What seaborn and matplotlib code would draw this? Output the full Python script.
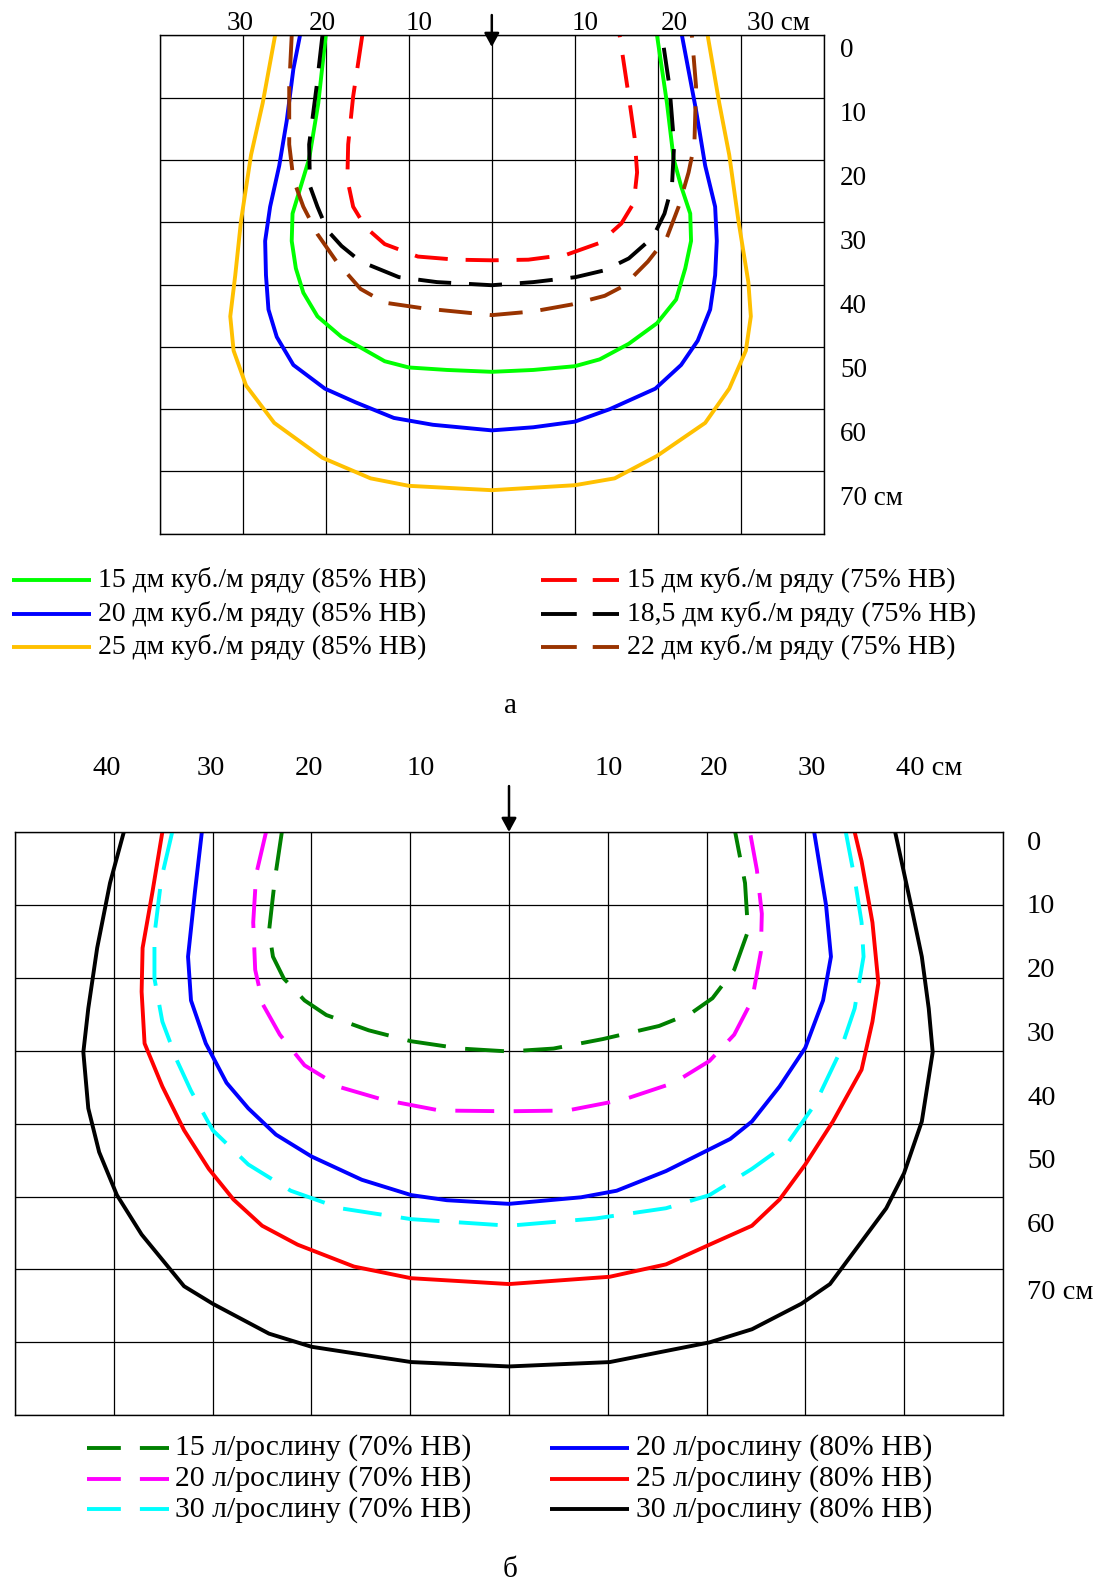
import numpy as np
import pandas as pd
import matplotlib
matplotlib.use("Agg")
import matplotlib.pyplot as plt
from matplotlib.lines import Line2D
import seaborn as sns

# ---------------- panel а : data (x = cm from row axis, y = depth cm) ----------------
A_LABELS = ["15 дм куб./м ряду (85% НВ)", "20 дм куб./м ряду (85% НВ)", "25 дм куб./м ряду (85% НВ)",
            "15 дм куб./м ряду (75% НВ)", "18,5 дм куб./м ряду (75% НВ)", "22 дм куб./м ряду (75% НВ)"]
A_COLORS = ["#00ff00", "#0000ff", "#ffc000", "#ff0000", "#000000", "#993300"]
A_DASHED = [False, False, False, True, True, True]

A_G15_X = [-20.0, -20.9, -22.0, -23.0, -24.0, -24.1, -23.6, -22.7, -21.0, -18.1, -15.8, -12.9, -10.0, -5.4, 0.0,
           5.0, 10.0, 13.0, 16.5, 19.9, 22.2, 23.3, 24.0, 23.9, 22.8, 21.9, 21.1, 19.9]
A_G15_Y = [0, 10.9, 19.8, 24.2, 28.6, 33.0, 37.4, 41.3, 45.1, 48.4, 50.1, 52.3, 53.3, 53.7, 54.0,
           53.7, 53.1, 52.0, 49.5, 46.2, 42.4, 37.4, 33.0, 28.6, 24.2, 19.8, 10.9, 0]
A_B20_X = [-23.1, -23.9, -24.7, -25.6, -26.7, -27.3, -27.2, -26.9, -25.9, -23.9, -20.1, -16.4, -11.8, -7.1, 0.0,
           5.0, 10.0, 14.2, 19.7, 22.8, 24.8, 26.3, 26.9, 27.1, 26.9, 25.7, 24.6, 22.9]
A_B20_Y = [0, 5.4, 13.7, 20.9, 27.5, 33.0, 38.5, 44.0, 48.4, 52.9, 56.7, 58.9, 61.4, 62.5, 63.4,
           62.9, 62.0, 60.0, 56.7, 52.9, 49.0, 44.0, 38.5, 33.0, 27.5, 20.9, 12.0, 0]
A_Y25_X = [-26.1, -27.6, -29.0, -30.2, -30.9, -31.5, -31.1, -29.6, -26.2, -20.4, -14.6, -10.0, 0.0,
           10.0, 14.8, 19.9, 25.7, 28.6, 30.6, 31.2, 30.9, 29.7, 28.6, 27.4, 26.0]
A_Y25_Y = [0, 10.9, 19.2, 29.7, 38.5, 45.1, 50.6, 56.2, 62.2, 67.8, 71.1, 72.3, 73.0,
           72.2, 71.1, 67.5, 62.2, 56.7, 50.6, 45.1, 39.6, 29.7, 19.2, 10.9, 0]
A_R15_X = [-15.6, -16.7, -17.3, -17.4, -16.7, -15.2, -12.9, -8.9, -4.3, 0.0,
           4.4, 9.0, 13.0, 15.6, 17.1, 17.5, 17.2, 16.5, 15.4]
A_R15_Y = [0, 9.8, 17.5, 23.1, 27.5, 30.8, 33.5, 35.5, 36.0, 36.1,
           36.0, 35.2, 33.3, 30.2, 26.9, 22.0, 16.4, 9.8, 0]
A_K185_X = [-20.4, -21.1, -22.0, -21.9, -21.0, -19.8, -18.1, -15.8, -11.2, -6.6, 0.0,
            5.0, 10.1, 13.6, 16.5, 19.4, 20.8, 21.7, 21.96, 21.4, 20.5]
A_K185_Y = [0, 8.2, 17.5, 24.2, 27.5, 31.3, 33.8, 36.3, 38.8, 39.6, 40.1,
            39.6, 38.8, 37.7, 35.8, 32.4, 28.6, 24.2, 17.5, 8.2, 0]
A_BR22_X = [-24.1, -24.4, -24.4, -23.9, -22.7, -21.0, -18.7, -15.8, -12.9, -8.3, 0.0,
            5.0, 9.6, 13.6, 15.9, 18.8, 21.1, 22.5, 23.7, 24.4, 24.6, 24.1]
A_BR22_Y = [0, 8.2, 17.5, 23.1, 27.5, 31.9, 36.3, 40.7, 42.9, 43.8, 44.9,
            44.3, 43.2, 41.8, 40.2, 36.3, 32.4, 27.5, 22.0, 17.5, 8.2, 0]

A_XTICK_LABELS = ["30", "20", "10", "10", "20", "30 см"]
A_YTICK_LABELS = ["0", "10", "20", "30", "40", "50", "60", "70 см"]

# ---------------- panel б : data ----------------
B_LABELS = ["15 л/рослину (70% НВ)", "20 л/рослину (70% НВ)", "30 л/рослину (70% НВ)",
            "20 л/рослину (80% НВ)", "25 л/рослину (80% НВ)", "30 л/рослину (80% НВ)"]
B_COLORS = ["#008000", "#ff00ff", "#00ffff", "#0000ff", "#ff0000", "#000000"]
B_DASHED = [True, True, True, False, False, False]

B_G15_X = [-23.0, -23.7, -24.3, -23.9, -22.8, -20.7, -18.5, -14.2, -9.9, -4.9, 0.0,
           4.5, 9.5, 15.2, 18.5, 20.6, 22.8, 24.2, 23.9, 22.9]
B_G15_Y = [0, 6.4, 13.6, 17.1, 20.1, 23.1, 25.1, 27.2, 28.7, 29.7, 30.1,
           29.7, 28.4, 26.6, 24.8, 22.8, 18.9, 13.6, 7.0, 0]
B_M20_X = [-24.6, -25.6, -25.9, -25.7, -24.9, -23.2, -20.7, -17.1, -12.8, -7.0, 0.0,
           5.9, 11.6, 16.7, 20.3, 22.8, 24.6, 25.5, 25.6, 25.1, 24.4]
B_M20_Y = [0, 5.8, 12.4, 18.9, 23.7, 27.8, 32.0, 35.0, 36.7, 38.2, 38.3,
           38.2, 36.7, 34.4, 31.4, 27.8, 23.1, 16.5, 11.2, 5.2, 0]
B_C30_X = [-34.1, -35.2, -35.9, -35.9, -35.1, -33.6, -32.2, -30.0, -26.4, -22.1, -17.1, -9.9, 0.0,
           8.8, 15.9, 20.3, 24.6, 28.2, 31.0, 33.5, 35.0, 35.9, 35.7, 35.0, 34.1]
B_C30_Y = [0, 6.4, 14.1, 20.1, 26.0, 31.4, 35.5, 40.9, 45.6, 49.2, 51.6, 53.1, 54.0,
           53.0, 51.6, 49.8, 46.2, 42.7, 37.3, 30.2, 24.2, 17.1, 12.4, 6.4, 0]
B_B20_X = [-31.1, -31.8, -32.5, -32.2, -30.7, -28.6, -26.4, -23.6, -20.0, -14.9, -9.9, -6.3, 0.0,
           7.3, 10.9, 15.9, 22.4, 24.6, 27.4, 30.0, 31.8, 32.6, 32.1, 30.9]
B_B20_Y = [0, 8.2, 17.1, 23.1, 29.0, 34.4, 37.9, 41.5, 44.5, 47.7, 49.8, 50.5, 51.0,
           50.1, 49.2, 46.5, 42.1, 39.7, 34.9, 29.6, 23.1, 17.1, 10.0, 0]
B_R25_X = [-35.1, -36.1, -37.1, -37.2, -36.9, -35.1, -32.9, -30.4, -27.9, -25.0, -21.4, -15.7, -9.9, 0.0,
           10.2, 15.9, 20.3, 24.6, 27.4, 30.0, 32.8, 35.7, 36.8, 37.4, 36.8, 35.7, 35.0]
B_R25_Y = [0, 8.2, 15.9, 21.9, 29.0, 34.9, 40.9, 46.2, 50.4, 54.0, 56.6, 59.6, 61.2, 62.0,
           61.0, 59.3, 56.6, 54.0, 50.4, 45.6, 39.7, 32.6, 26.0, 20.7, 12.4, 4.0, 0]
B_K30_X = [-39.0, -40.4, -41.7, -42.6, -43.1, -42.6, -41.5, -39.7, -37.2, -32.9, -30.0, -24.3, -20.0, -9.9, 0.0,
           10.2, 20.3, 24.6, 29.6, 32.5, 35.3, 38.2, 40.0, 41.8, 42.9, 42.5, 41.8, 40.7, 39.1]
B_K30_Y = [0, 7.0, 15.9, 24.2, 30.2, 37.9, 43.9, 49.8, 55.2, 62.3, 64.7, 68.8, 70.6, 72.7, 73.3,
           72.7, 70.0, 68.2, 64.7, 62.0, 56.9, 51.6, 46.8, 39.7, 30.2, 24.2, 17.1, 10.0, 0]

B_XTICK_LABELS = ["40", "30", "20", "10", "10", "20", "30", "40 см"]
B_YTICK_LABELS = ["0", "10", "20", "30", "40", "50", "60", "70 см"]

A_SERIES = [(A_G15_X, A_G15_Y), (A_B20_X, A_B20_Y), (A_Y25_X, A_Y25_Y),
            (A_R15_X, A_R15_Y), (A_K185_X, A_K185_Y), (A_BR22_X, A_BR22_Y)]
B_SERIES = [(B_G15_X, B_G15_Y), (B_M20_X, B_M20_Y), (B_C30_X, B_C30_Y),
            (B_B20_X, B_B20_Y), (B_R25_X, B_R25_Y), (B_K30_X, B_K30_Y)]

# ---------------- figure ----------------
W, H, DPI = 1112, 1585, 100
sns.set_theme(style="white")
plt.rcParams["font.family"] = ["Liberation Serif", "DejaVu Serif"]
plt.rcParams["text.color"] = "black"

fig = plt.figure(figsize=(W / DPI, H / DPI), dpi=DPI)
fig.patch.set_facecolor("white")

LW = 2.8


def fx(px):
    return px / W


def fy(py):
    return 1 - py / H


def make_df(series, labels):
    frames = []
    for (xs, ys), lab in zip(series, labels):
        frames.append(pd.DataFrame({"x": xs, "depth": ys, "series": lab}))
    return pd.concat(frames, ignore_index=True)


def style_grid(ax, xmax):
    ax.set_xlim(-xmax, xmax)
    ax.set_ylim(80, 0)
    ax.set_xticks(np.arange(-xmax, xmax + 1, 10))
    ax.set_yticks(np.arange(0, 81, 10))
    ax.grid(True, color="black", lw=0.9)
    ax.set_axisbelow(True)
    ax.tick_params(length=0, labelbottom=False, labelleft=False)
    ax.set_xlabel("")
    ax.set_ylabel("")
    for s in ax.spines.values():
        s.set_visible(True)
        s.set_color("black")
        s.set_linewidth(1.0)
    ax.set_facecolor("white")


def draw_panel(ax, series, labels, colors, dashed, dash_pat):
    df = make_df(series, labels)
    dashes = {lab: (dash_pat if d else "") for lab, d in zip(labels, dashed)}
    sns.lineplot(data=df, x="x", y="depth", hue="series", style="series",
                 hue_order=labels, style_order=labels,
                 palette=dict(zip(labels, colors)), dashes=dashes,
                 sort=False, estimator=None, lw=LW, legend=False, ax=ax)
    for ln in ax.lines:
        ln.set_solid_joinstyle("round")
        ln.set_dash_capstyle("butt")


# ----- panel а -----
ax_a = fig.add_axes([fx(159.7), fy(533.8), (823.9 - 159.7) / W, (533.8 - 35.4) / H])
draw_panel(ax_a, A_SERIES, A_LABELS, A_COLORS, A_DASHED, (8.5, 4.6))
style_grid(ax_a, 40)
ax_a.annotate("", xy=(0, 1.86), xytext=(0, -3.27), annotation_clip=False,
              arrowprops=dict(arrowstyle="-|>,head_length=0.55,head_width=0.3", color="black",
                              lw=1.8, shrinkA=0, shrinkB=0, mutation_scale=15))

FS_A = 19.5
for lab, cx in zip(A_XTICK_LABELS, [240.0, 322.0, 419.0, 585.0, 674.0, 778.5]):
    fig.text(fx(cx), fy(23.0), lab, ha="center", va="center", fontsize=FS_A)
for i, lab in enumerate(A_YTICK_LABELS):
    fig.text(fx(840), fy(50.8 + 64.0 * i), lab, ha="left", va="center", fontsize=FS_A)

# ----- panel б -----
ax_b = fig.add_axes([fx(15.2), fy(1415.3), (1002.8 - 15.2) / W, (1415.3 - 832.0) / H])
draw_panel(ax_b, B_SERIES, B_LABELS, B_COLORS, B_DASHED, (10.0, 5.0))
style_grid(ax_b, 50)
ax_b.annotate("", xy=(0, 0.0), xytext=(0, -6.3), annotation_clip=False,
              arrowprops=dict(arrowstyle="-|>,head_length=0.55,head_width=0.3", color="black",
                              lw=1.8, shrinkA=0, shrinkB=0, mutation_scale=15))

FS_B = 20.5
for lab, cx in zip(B_XTICK_LABELS, [106.4, 211.0, 309.0, 421.0, 609.0, 714.0, 812.0, 929.5]):
    fig.text(fx(cx), fy(768.5), lab, ha="center", va="center", fontsize=FS_B)
for i, lab in enumerate(B_YTICK_LABELS):
    fig.text(fx(1027), fy(843.0 + 63.8 * i + (3 if i == 7 else 0)), lab, ha="left", va="center", fontsize=FS_B)


# ----- legends (drawn as figure artists) -----
def legend_entry(x0, x1, y, color, dashed, dash_pat, text_x, text, fs):
    ln = Line2D([fx(x0), fx(x1)], [fy(y), fy(y)], transform=fig.transFigure,
                color=color, lw=LW, solid_capstyle="butt", dash_capstyle="butt")
    if dashed:
        ln.set_dashes(dash_pat)
    fig.add_artist(ln)
    fig.text(fx(text_x), fy(y), text, ha="left", va="center", fontsize=fs)


FS_LA = 19.9
rows_a = [580.3, 613.6, 647.0]
for i in range(3):
    legend_entry(12, 91, rows_a[i], A_COLORS[i], A_DASHED[i], (9.2, 4.1), 98, A_LABELS[i], FS_LA)
    legend_entry(541, 619, rows_a[i], A_COLORS[i + 3], A_DASHED[i + 3], (9.2, 4.1), 627, A_LABELS[i + 3], FS_LA)

FS_LB = 21.4
rows_b = [1447.6, 1479.0, 1509.3]
for i in range(3):
    legend_entry(87, 169, rows_b[i], B_COLORS[i], B_DASHED[i], (8.7, 4.9), 175, B_LABELS[i], FS_LB)
    legend_entry(550, 629, rows_b[i], B_COLORS[i + 3], B_DASHED[i + 3], (8.7, 4.9), 636, B_LABELS[i + 3], FS_LB)

fig.text(fx(510.5), fy(705.6), "а", ha="center", va="center", fontsize=21)
fig.text(fx(510.5), fy(1570.0), "б", ha="center", va="center", fontsize=21)

fig.savefig("out.png", dpi=DPI, facecolor="white")
